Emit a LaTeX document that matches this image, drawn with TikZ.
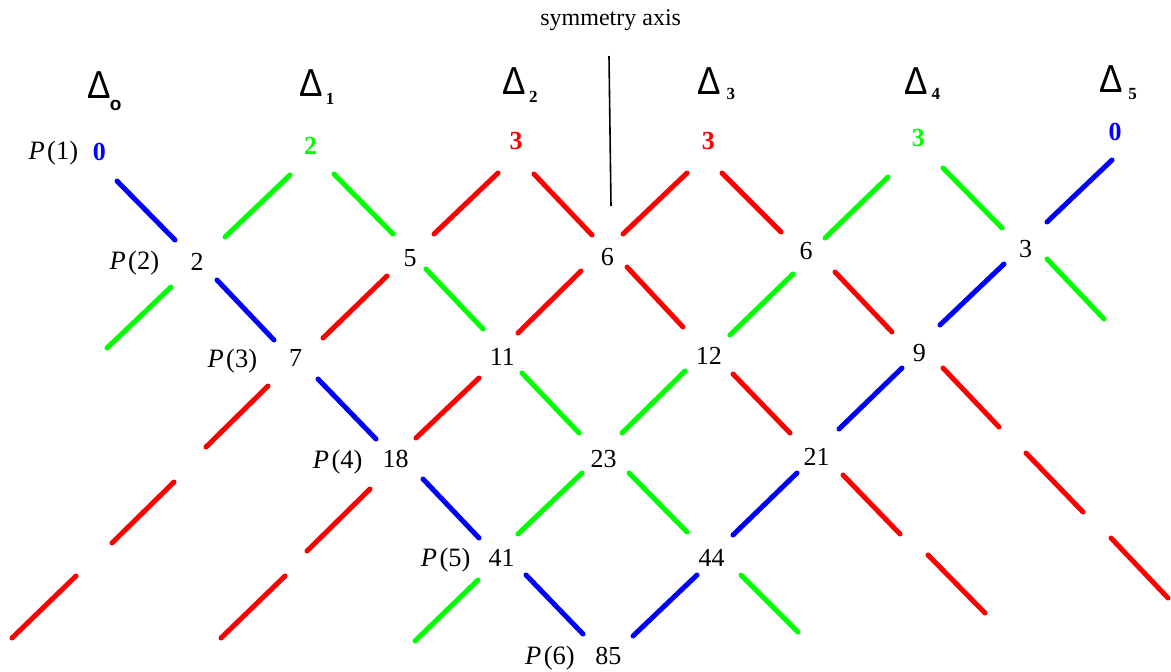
\documentclass[tikz,border=0pt]{standalone}
\usepackage{fontspec}
\setmainfont{Liberation Serif}
\newfontfamily\sansf{Liberation Sans}
\definecolor{segblue}{RGB}{0,0,255}
\definecolor{seggreen}{RGB}{0,255,0}
\definecolor{segred}{RGB}{255,0,0}
\newcommand{\plabel}[1]{\textit{P}\kern2.5pt(#1)}
\begin{document}
\begin{tikzpicture}[x=1pt,y=-1pt,
  num/.style={font=\fontsize{26}{26}\selectfont, inner sep=0pt, anchor=base},
  plab/.style={font=\fontsize{26.5}{26.5}\selectfont, inner sep=0pt, anchor=base east},
  topnum/.style={font=\fontsize{26}{26}\selectfont\bfseries, inner sep=0pt, anchor=base},
  tri/.style={font=\sansf\fontsize{39}{39}\selectfont, inner sep=0pt, anchor=base, xscale=0.9},
  subs/.style={font=\fontsize{17}{17}\selectfont\bfseries, inner sep=0pt, anchor=base},
  ring/.style={font=\sansf\fontsize{19}{19}\selectfont\bfseries, inner sep=0pt, anchor=base},
  seg/.style={line width=5pt, line cap=round},
  axisline/.style={line width=1.6pt, black}]
\useasboundingbox (0,0) rectangle (1171,672);

% title and axis
\node[font=\fontsize{24}{24}\selectfont, inner sep=0pt, anchor=base] (title) at (610.7,25) {symmetry axis};
\coordinate (axtop) at (609,56);
\coordinate (axbot) at (611,206);
\draw[axisline] (axtop) -- (axbot);

% Delta headers
\node[tri] (D0) at (99.5,98.3) {Δ};
\node[ring] (s0) at (115.7,110) {o};
\node[tri] (D1) at (311.3,96) {Δ};
\node[subs] (s1) at (330,104.3) {1};
\node[tri] (D2) at (514.5,94.3) {Δ};
\node[subs] (s2) at (533.3,102.7) {2};
\node[tri] (D3) at (709.2,94.3) {Δ};
\node[subs] (s3) at (730.8,99.3) {3};
\node[tri] (D4) at (916.2,94.3) {Δ};
\node[subs] (s4) at (935.8,99.3) {4};
\node[tri] (D5) at (1111.3,92.7) {Δ};
\node[subs] (s5) at (1132.5,99.3) {5};

% top row
\node[topnum, text=segblue] (t0) at (99.3,160) {0};
\node[topnum, text=seggreen] (t1) at (310.7,154) {2};
\node[topnum, text=segred] (t2) at (516,149.3) {3};
\node[topnum, text=segred] (t3) at (708.3,149.3) {3};
\node[topnum, text=seggreen] (t4) at (918.3,146) {3};
\node[topnum, text=segblue] (t5) at (1115,140.7) {0};

% P labels
\node[plab] (P1) at (78.3,159.5) {\plabel{1}};
\node[plab] (P2) at (159.3,269.5) {\plabel{2}};
\node[plab] (P3) at (257.3,367) {\plabel{3}};
\node[plab] (P4) at (362.7,468) {\plabel{4}};
\node[plab] (P5) at (470.7,566.5) {\plabel{5}};
\node[plab] (P6) at (575,664.3) {\plabel{6}};

% lattice numbers
\node[num] (a1) at (197,270) {2};
\node[num] (a2) at (410,266.7) {5};
\node[num] (a3) at (607.3,265) {6};
\node[num] (a4) at (806,259.3) {6};
\node[num] (a5) at (1025.5,257.3) {3};
\node[num] (b2) at (295.5,366.7) {7};
\node[num] (b3) at (502.3,365) {11};
\node[num] (b4) at (708.8,364) {12};
\node[num] (b5) at (919.3,361) {9};
\node[num] (c3) at (395.5,467) {18};
\node[num] (c4) at (603.7,467.7) {23};
\node[num] (c5) at (816.5,465) {21};
\node[num] (d4) at (501.7,566.3) {41};
\node[num] (d5) at (711.7,566.3) {44};
\node[num] (e5) at (608.3,664.3) {85};

% segments
\foreach \c/\xa/\ya/\xb/\yb in {
  segblue/117/181/175/240,
  seggreen/290/175/225/237,
  seggreen/334/174/393/234,
  segred/498/173/434/234,
  segred/534/174/592/235,
  segred/687/173/623/234,
  segred/722/173/781/232,
  seggreen/888/177/825/238,
  seggreen/943/168/1002/228,
  segblue/1112/160/1047/222,
  seggreen/171/287/107/348,
  segblue/217/280/274/340,
  segred/387/276/323/338,
  seggreen/426/269/483/329,
  segred/581/271/518/333,
  segred/627/267/683/327,
  seggreen/793/274/730/335,
  segred/835/272/892/332,
  segblue/1004/264/940/325,
  seggreen/1047/259/1104/319,
  segred/268/386/206/447,
  segred/174/482/112/543,
  segred/76/576/12/638,
  segblue/318/379/376/439,
  segred/479/378/416/438,
  seggreen/522/373/579/433,
  seggreen/685/371/622/433,
  segred/733/374/790/433,
  segblue/902/368/839/429,
  segred/943/368/999/427,
  segred/1026/453/1083/512,
  segred/1111/538/1168/598,
  segred/370/489/307/551,
  segred/285/576/221/638,
  segblue/423/479/479/538,
  seggreen/582/473/518/534,
  seggreen/629/473/687/532,
  segblue/797/473/733/535,
  segred/843/475/900/534,
  segred/928/555/985/613,
  seggreen/478/580/415/641,
  segblue/526/575/583/634,
  segblue/697/575/633/636,
  seggreen/741/575/798/632}
  \draw[seg, draw=\c] (\xa,\ya) -- (\xb,\yb);
\end{tikzpicture}
\end{document}
